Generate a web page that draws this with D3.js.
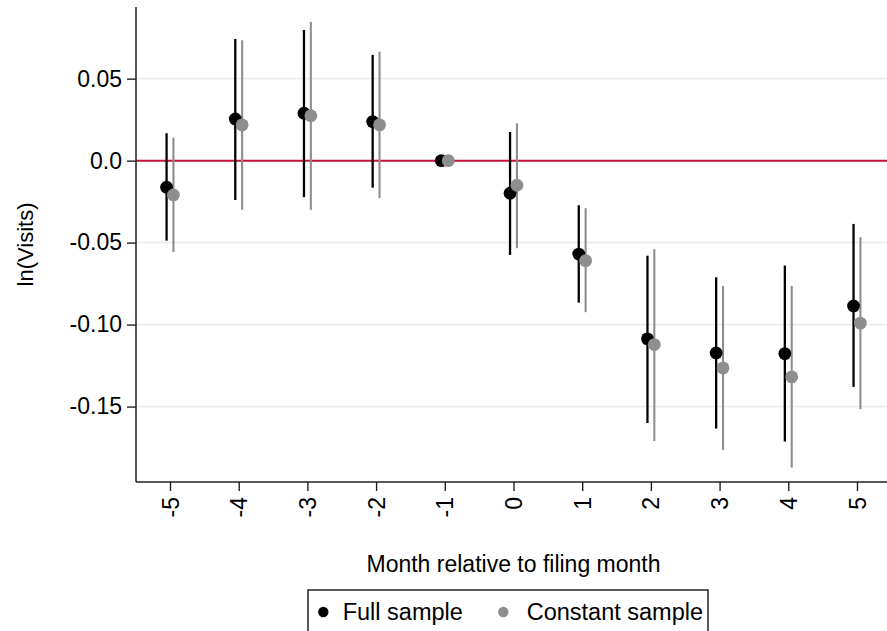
<!DOCTYPE html>
<html>
<head>
<meta charset="utf-8">
<script src="https://cdn.jsdelivr.net/npm/d3@7"></script>
<style>
  html, body { margin: 0; padding: 0; background: #fff; }
  svg { display: block; font-family: "Liberation Sans", Arial, Helvetica, sans-serif; }
</style>
</head>
<body>
<svg id="chart" width="887" height="631"></svg>
<script>
// ---- data ----
const months = [-5, -4, -3, -2, -1, 0, 1, 2, 3, 4, 5];
const fullEst   = [-0.0162, 0.0254, 0.0289, 0.0238, 0, -0.0199, -0.0570, -0.1087, -0.1173, -0.1177, -0.0886];
const fullLow   = [-0.0488, -0.0240, -0.0223, -0.0165, 0, -0.0575, -0.0866, -0.1600, -0.1634, -0.1713, -0.1380];
const fullHigh  = [0.0167, 0.0742, 0.0797, 0.0645, 0, 0.0175, -0.0272, -0.0580, -0.0711, -0.0640, -0.0386];
const constEst  = [-0.0209, 0.0218, 0.0274, 0.0218, 0, -0.0150, -0.0610, -0.1122, -0.1264, -0.1319, -0.0991];
const constLow  = [-0.0558, -0.0300, -0.0300, -0.0229, 0, -0.0534, -0.0924, -0.1710, -0.1764, -0.1872, -0.1516];
const constHigh = [0.0140, 0.0734, 0.0846, 0.0665, 0, 0.0228, -0.0290, -0.0540, -0.0764, -0.0764, -0.0467];
const xTickLabels = ["-5", "-4", "-3", "-2", "-1", "0", "1", "2", "3", "4", "5"];
const yTicks = [0.05, 0.0, -0.05, -0.10, -0.15];
const yTickLabels = ["0.05", "0.0", "-0.05", "-0.10", "-0.15"];
const seriesNames = ["Full sample", "Constant sample"];
const xTitle = "Month relative to filing month";
const yTitle = "ln(Visits)";

// ---- layout ----
const svg = d3.select("#chart");
const pLeft = 136, pRight = 887, pTop = 7, pBottom = 482;
const x = d3.scaleLinear().domain([-5.495, 5.437]).range([pLeft, pRight]);
const y = d3.scaleLinear().domain([-0.196, 0.0937]).range([pBottom, pTop]);
const offset = 0.05;
const colors = ["#000000", "#8e8e8e"];

// gridlines
svg.append("g").selectAll("line").data(yTicks.filter(d => d !== 0)).join("line")
  .attr("x1", pLeft).attr("x2", pRight)
  .attr("y1", d => y(d)).attr("y2", d => y(d))
  .attr("stroke", "#e9eff1").attr("stroke-width", 1.6);

// zero reference line
svg.append("line")
  .attr("x1", pLeft).attr("x2", pRight)
  .attr("y1", y(0)).attr("y2", y(0))
  .attr("stroke", "#c8103a").attr("stroke-width", 2);

// y axis
const yAxis = d3.axisLeft(y).tickValues(yTicks).tickSize(9).tickPadding(5)
  .tickFormat((d, i) => yTickLabels[i]);
const gy = svg.append("g").attr("transform", `translate(${pLeft},0)`).call(yAxis);
gy.select(".domain").remove();
gy.selectAll(".tick line").attr("stroke", "#222").attr("stroke-width", 1.4);
gy.selectAll(".tick text").attr("font-size", 23).attr("fill", "#000")
  .attr("font-family", "Liberation Sans, Arial, sans-serif");
svg.append("line").attr("x1", pLeft).attr("x2", pLeft).attr("y1", pTop).attr("y2", pBottom)
  .attr("stroke", "#222").attr("stroke-width", 1.5);

// x axis
const xAxis = d3.axisBottom(x).tickValues(months).tickSize(9)
  .tickFormat((d, i) => xTickLabels[i]);
const gx = svg.append("g").attr("transform", `translate(0,${pBottom})`).call(xAxis);
gx.select(".domain").remove();
gx.selectAll(".tick line").attr("stroke", "#222").attr("stroke-width", 1.4);
gx.selectAll(".tick text")
  .attr("font-size", 23).attr("fill", "#000")
  .attr("font-family", "Liberation Sans, Arial, sans-serif")
  .attr("text-anchor", "end")
  .attr("transform", "rotate(-90)")
  .attr("x", -15).attr("y", 0).attr("dy", "0.35em");
svg.append("line").attr("x1", pLeft).attr("x2", pRight).attr("y1", pBottom).attr("y2", pBottom)
  .attr("stroke", "#222").attr("stroke-width", 1.5);

// error bars and points
const series = [
  { est: fullEst, low: fullLow, high: fullHigh, dx: -offset, color: colors[0], w: 2.3 },
  { est: constEst, low: constLow, high: constHigh, dx: offset, color: colors[1], w: 2.1 }
];
series.forEach(s => {
  const g = svg.append("g");
  const data = months.map((m, i) => ({ m, est: s.est[i], low: s.low[i], high: s.high[i] }));
  g.selectAll("line").data(data.filter(d => d.low !== d.high)).join("line")
    .attr("x1", d => x(d.m + s.dx)).attr("x2", d => x(d.m + s.dx))
    .attr("y1", d => y(d.low)).attr("y2", d => y(d.high))
    .attr("stroke", s.color).attr("stroke-width", s.w);
});
series.forEach(s => {
  const g = svg.append("g");
  const data = months.map((m, i) => ({ m, est: s.est[i] }));
  g.selectAll("circle").data(data).join("circle")
    .attr("cx", d => x(d.m + s.dx)).attr("cy", d => y(d.est))
    .attr("r", 6.4).attr("fill", s.color);
});

// axis titles
svg.append("text").attr("x", x(0)).attr("y", 572)
  .attr("text-anchor", "middle").attr("font-size", 23).attr("fill", "#000").text(xTitle);
svg.append("text").attr("transform", `translate(33,${(pTop + pBottom) / 2}) rotate(-90)`)
  .attr("text-anchor", "middle").attr("font-size", 22).attr("fill", "#000").text(yTitle);

// legend
const lg = svg.append("g");
lg.append("rect").attr("x", 308).attr("y", 590).attr("width", 400).attr("height", 60)
  .attr("fill", "#fff").attr("stroke", "#222").attr("stroke-width", 1.5);
const legendItems = [
  { name: seriesNames[0], color: colors[0], cx: 323.3, tx: 342.7 },
  { name: seriesNames[1], color: colors[1], cx: 503.3, tx: 526.7 }
];
legendItems.forEach(it => {
  lg.append("circle").attr("cx", it.cx).attr("cy", 612).attr("r", 5.2).attr("fill", it.color);
  lg.append("text").attr("x", it.tx).attr("y", 620).attr("font-size", 23.5).attr("fill", "#000").text(it.name);
});
</script>
</body>
</html>
